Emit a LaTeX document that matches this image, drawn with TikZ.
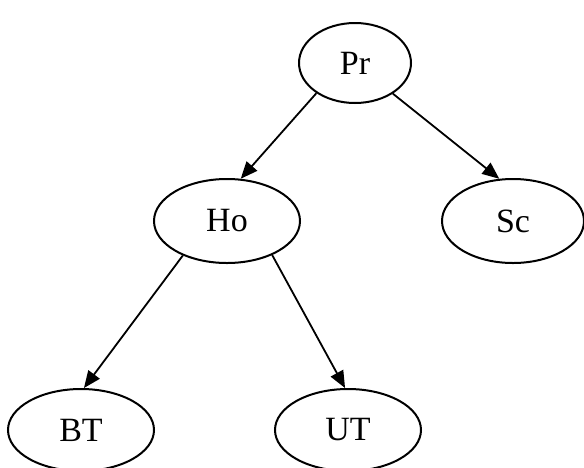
\documentclass[tikz,border=0pt]{standalone}
\usepackage{fontspec}
\setmainfont{Liberation Serif}
\usetikzlibrary{shapes.geometric,arrows.meta}
\begin{document}
\begin{tikzpicture}[x=1pt,y=-1pt,
  treenode/.style={draw, ellipse, line width=2pt, inner sep=0pt,
    font=\fontsize{34pt}{38pt}\selectfont},
  treeedge/.style={line width=1.8pt, -{Triangle[length=17pt,width=14pt]}}]
\useasboundingbox (0,0) rectangle (584,467);
% nodes of the tree
\node[treenode, minimum width=112pt, minimum height=80pt] (pr) at (355,63) {Pr};
\node[treenode, minimum width=146pt, minimum height=84pt] (ho) at (227,221) {Ho};
\node[treenode, minimum width=142pt, minimum height=84pt] (sc) at (513,221) {Sc};
\node[treenode, minimum width=146pt, minimum height=82pt] (bt) at (81,430) {BT};
\node[treenode, minimum width=146pt, minimum height=82pt] (ut) at (348,430) {UT};
% edges
\draw[treeedge] (pr.218) -- (ho.72);
\draw[treeedge] (pr.-39) -- (sc.108);
\draw[treeedge] (ho.218) -- (bt.86);
\draw[treeedge] (ho.-37) -- (ut.94);
\end{tikzpicture}
\end{document}
